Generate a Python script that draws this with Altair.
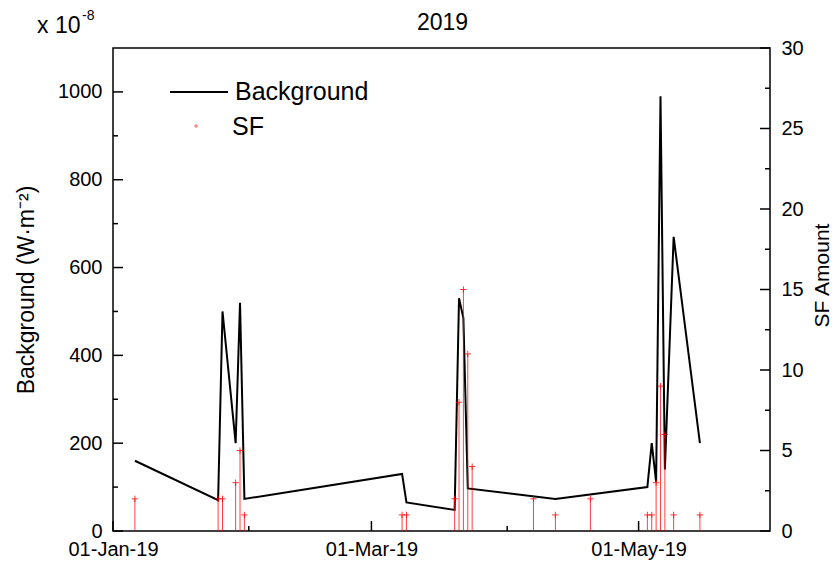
import altair as alt
import pandas as pd

# ---- data ----
bg_dates = ["2019-01-06", "2019-01-25", "2019-01-26", "2019-01-29", "2019-01-30", "2019-01-31",
            "2019-03-08", "2019-03-09", "2019-03-20", "2019-03-21", "2019-03-22", "2019-03-23",
            "2019-04-12", "2019-05-03", "2019-05-04", "2019-05-05", "2019-05-06", "2019-05-07",
            "2019-05-09", "2019-05-15"]
bg_values = [160, 70, 500, 200, 520, 73,
             130, 65, 48, 530, 485, 97,
             73, 100, 200, 112, 990, 140,
             670, 200]

sf_dates = ["2019-01-06", "2019-01-25", "2019-01-26", "2019-01-29", "2019-01-30", "2019-01-31",
            "2019-03-08", "2019-03-09", "2019-03-20", "2019-03-21", "2019-03-22", "2019-03-23",
            "2019-03-24", "2019-04-07", "2019-04-12", "2019-04-20", "2019-05-03", "2019-05-04",
            "2019-05-05", "2019-05-06", "2019-05-07", "2019-05-09", "2019-05-15"]
sf_values = [2, 2, 2, 3, 5, 1,
             1, 1, 2, 8, 15, 11,
             4, 2, 1, 2, 1, 1,
             3, 9, 6, 1, 1]

left_major = [0, 200, 400, 600, 800, 1000]
left_minor = [100, 300, 500, 700, 900]
right_major = [0, 5, 10, 15, 20, 25, 30]
right_minor = [2.5, 7.5, 12.5, 17.5, 22.5, 27.5]
x_major = ["2019-01-01", "2019-03-01", "2019-05-01"]
x_minor = ["2019-02-01", "2019-04-01"]

W, H = 657, 483
FONT = "Liberation Sans"

bg = pd.DataFrame({"date": bg_dates, "bg": bg_values})
sf = pd.DataFrame({"date": sf_dates, "sf": sf_values, "zero": [0] * len(sf_values)})

xscale = alt.Scale(type="utc",
                   domain=[alt.DateTime(year=2019, month=1, date=1, utc=True),
                           alt.DateTime(year=2019, month=5, date=31, utc=True)])
lscale = alt.Scale(domain=[0, 1100], nice=False, zero=False)
rscale = alt.Scale(domain=[0, 30], nice=False, zero=False)

x_axis = alt.Axis(values=[alt.DateTime(year=2019, month=m, date=1, utc=True) for m in (1, 3, 5)],
                  format="%d-%b-%y", ticks=False, domain=False, grid=False,
                  labelPadding=8, title=None, labelFlush=False)
l_axis = alt.Axis(orient="left", values=left_major, format="d", ticks=False, domain=False, grid=False,
                  labelPadding=11, title="Background (W·m⁻²)", titlePadding=19, titleFontSize=23)
r_axis = alt.Axis(orient="right", values=right_major, format="d", ticks=False, domain=False, grid=False,
                  labelPadding=11, title=None)


def X(field="date"):
    return alt.X(f"{field}:T", scale=xscale, axis=x_axis)


def YL():
    return alt.Y("bg:Q", scale=lscale, axis=l_axis)


def YR():
    return alt.Y("sf:Q", scale=rscale, axis=r_axis)


def label(txt, size, x, y, align="left", baseline="alphabetic", angle=0):
    return alt.Chart(pd.DataFrame({"t": [txt]})).mark_text(
        font=FONT, fontSize=size, align=align, baseline=baseline, color="black", angle=angle
    ).encode(text="t:N", x=alt.value(x), y=alt.value(y))


line = alt.Chart(bg).mark_line(color="black", strokeWidth=2).encode(x=X(), y=YL())

lt_major = alt.Chart(pd.DataFrame({"bg": left_major})).mark_rule(color="black", strokeWidth=1.5).encode(
    y=YL(), x=alt.value(0), x2=alt.value(10))
lt_minor = alt.Chart(pd.DataFrame({"bg": left_minor})).mark_rule(color="black", strokeWidth=1.5).encode(
    y=YL(), x=alt.value(0), x2=alt.value(5))
xt_major = alt.Chart(pd.DataFrame({"date": x_major})).mark_rule(color="black", strokeWidth=1.5).encode(
    x=X(), y=alt.value(H - 10), y2=alt.value(H))
xt_minor = alt.Chart(pd.DataFrame({"date": x_minor})).mark_rule(color="black", strokeWidth=1.5).encode(
    x=X(), y=alt.value(H - 5), y2=alt.value(H))

title = label("2019", 23, W / 2 + 1, -18, align="center")
exp1 = label("x 10", 23, -76, -15)
exp2 = label("-8", 14, -31, -28)
sf_title = label("SF Amount", 21, W + 53, H / 2 - 14, align="center", baseline="middle", angle=270)

# legend (drawn inside plot)
leg_line = alt.Chart(pd.DataFrame({"k": [0]})).mark_rule(color="black", strokeWidth=2).encode(
    x=alt.value(57), x2=alt.value(115), y=alt.value(44))
leg_txt1 = label("Background", 25, 122, 44, baseline="middle")
leg_txt2 = label("SF", 25, 119, 79, baseline="middle")

left = alt.layer(line, lt_major, lt_minor, xt_major, xt_minor, title, exp1, exp2, sf_title,
                 leg_line, leg_txt1, leg_txt2)

stems = alt.Chart(sf).mark_rule(color="red", opacity=0.75, strokeWidth=1).encode(
    x=X(), y=YR(), y2="zero:Q")
pts = alt.Chart(sf).mark_point(shape="M-1,0L1,0M0,-1L0,1", size=40, color="red", filled=False,
                               strokeWidth=1, opacity=0.8).encode(x=X(), y=YR())
rt_major = alt.Chart(pd.DataFrame({"sf": right_major})).mark_rule(color="black", strokeWidth=1.5).encode(
    y=YR(), x=alt.value(W - 10), x2=alt.value(W))
rt_minor = alt.Chart(pd.DataFrame({"sf": right_minor})).mark_rule(color="black", strokeWidth=1.5).encode(
    y=YR(), x=alt.value(W - 5), x2=alt.value(W))
leg_pt = alt.Chart(pd.DataFrame({"k": [0]})).mark_point(shape="M-1,0L1,0M0,-1L0,1", size=16, color="red",
                                                        filled=False, strokeWidth=1, opacity=0.6).encode(
    x=alt.value(83), y=alt.value(78))

right = alt.layer(stems, pts, rt_major, rt_minor, leg_pt)

chart = alt.layer(left, right).resolve_scale(y="independent").properties(
    width=W, height=H,
    padding={"left": 105, "top": 40, "right": 62, "bottom": 30},
    autosize=alt.AutoSizeParams(type="none"),
    background="white",
).configure_view(
    stroke="black", strokeWidth=1.5
).configure_axis(
    labelFont=FONT, labelFontSize=20, labelColor="black",
    titleFont=FONT, titleFontSize=20, titleFontWeight="normal", titleColor="black",
)

chart.save("out.html", embed_options={"renderer": "svg", "actions": False})
